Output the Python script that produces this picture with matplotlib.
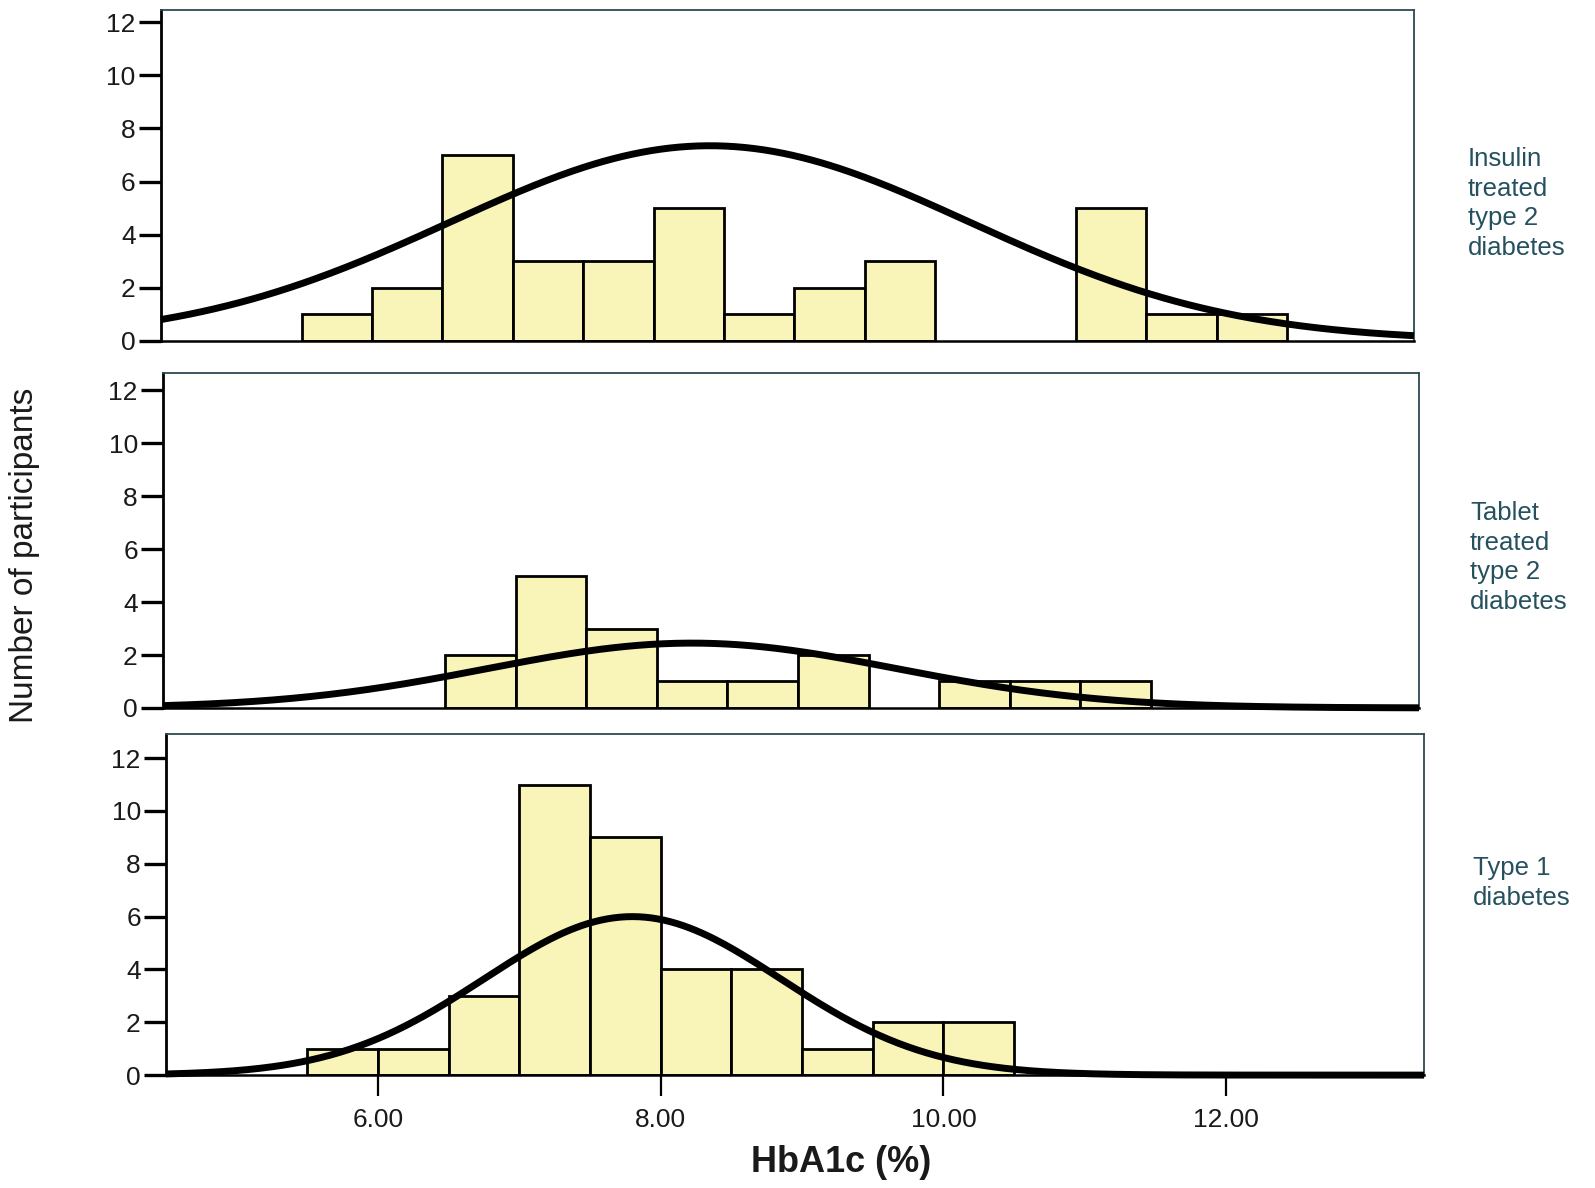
import numpy as np
import matplotlib
matplotlib.use("Agg")
import matplotlib.pyplot as plt

plt.rcParams['font.family'] = ['Liberation Sans', 'DejaVu Sans']

# ---- data ----
bin_left = [5.5, 6.0, 6.5, 7.0, 7.5, 8.0, 8.5, 9.0, 9.5, 10.0, 10.5, 11.0, 11.5, 12.0]
bin_width = 0.5
insulin_counts = [1, 2, 7, 3, 3, 5, 1, 2, 3, 0, 0, 5, 1, 1]
tablet_counts = [0, 0, 2, 5, 3, 1, 1, 2, 0, 1, 1, 1, 0, 0]
type1_counts = [1, 1, 3, 11, 9, 4, 4, 1, 2, 2, 0, 0, 0, 0]

# fitted normal curves: mean, sd, peak height
insulin_fit = (8.4, 1.85, 7.35)
tablet_fit = (8.25, 1.45, 2.45)
type1_fit = (7.8, 1.05, 6.0)

group_labels = ["Insulin\ntreated\ntype 2\ndiabetes",
                "Tablet\ntreated\ntype 2\ndiabetes",
                "Type 1\ndiabetes"]
y_ticks = [0, 2, 4, 6, 8, 10, 12]
x_ticks = [6.0, 8.0, 10.0, 12.0]
x_tick_labels = ["6.00", "8.00", "10.00", "12.00"]
x_label = "HbA1c (%)"
y_label = "Number of participants"

# ---- layout ----
W, H = 1568, 1168
fig = plt.figure(figsize=(15.95, 11.88), dpi=100)

panels = [
    dict(box=(158, 10, 1390, 335), counts=insulin_counts, fit=insulin_fit, ytop=12.46, label=group_labels[0], ly=200),
    dict(box=(160, 367, 1395, 696), counts=tablet_counts, fit=tablet_fit, ytop=12.65, label=group_labels[1], ly=548),
    dict(box=(163, 722, 1400, 1057), counts=type1_counts, fit=type1_fit, ytop=12.9, label=group_labels[2], ly=868),
]
label_x = [1443, 1445, 1448]

xlim = (4.5, 13.4)
fill = '#f9f5b9'
frame_col = '#2c4a52'

for i, p in enumerate(panels):
    l, t, r, b = p['box']
    ax = fig.add_axes([l / W, 1 - b / H, (r - l) / W, (b - t) / H])
    ax.set_xlim(*xlim)
    ax.set_ylim(0, p['ytop'])
    lefts = [x for x, c in zip(bin_left, p['counts']) if c > 0]
    heights = [c for c in p['counts'] if c > 0]
    ax.bar(lefts, heights, width=bin_width, align='edge', color=fill,
           edgecolor='black', linewidth=2.0, zorder=2)
    mu, sd, pk = p['fit']
    xs = np.linspace(xlim[0], xlim[1], 400)
    ax.plot(xs, pk * np.exp(-0.5 * ((xs - mu) / sd) ** 2), color='black',
            lw=5.0, solid_capstyle='butt', zorder=3, clip_on=False)

    for s in ['top', 'right']:
        ax.spines[s].set_color(frame_col)
        ax.spines[s].set_linewidth(1.3)
    ax.spines['left'].set_color('black')
    ax.spines['left'].set_linewidth(2.0)
    ax.spines['bottom'].set_color('black')
    ax.spines['bottom'].set_linewidth(1.8)

    ax.set_yticks(y_ticks)
    ax.set_yticklabels([str(v) for v in y_ticks])
    ax.tick_params(axis='y', direction='out', length=16, width=2.4, pad=2,
                   labelsize=19, labelcolor='#1a1a1a', color='black')
    if i < 2:
        ax.set_xticks([])
    else:
        ax.set_xticks(x_ticks)
        ax.set_xticklabels(x_tick_labels)
        ax.tick_params(axis='x', direction='out', length=15, width=1.6, pad=9,
                       labelsize=19, labelcolor='#1a1a1a', color='black')

    fig.text(label_x[i] / W, 1 - p['ly'] / H, p['label'], ha='left', va='center',
             fontsize=18.5, color='#25505e', linespacing=1.3)

fig.text(827 / W, 1 - 1143 / H, x_label, ha='center', va='center',
         fontsize=26, fontweight='bold', color='#1a1a1a')
fig.text(24 / W, 1 - 546 / H, y_label, ha='center', va='center',
         rotation=90, fontsize=24, color='#1a1a1a')

fig.savefig('out.png', dpi=100, facecolor='white')
